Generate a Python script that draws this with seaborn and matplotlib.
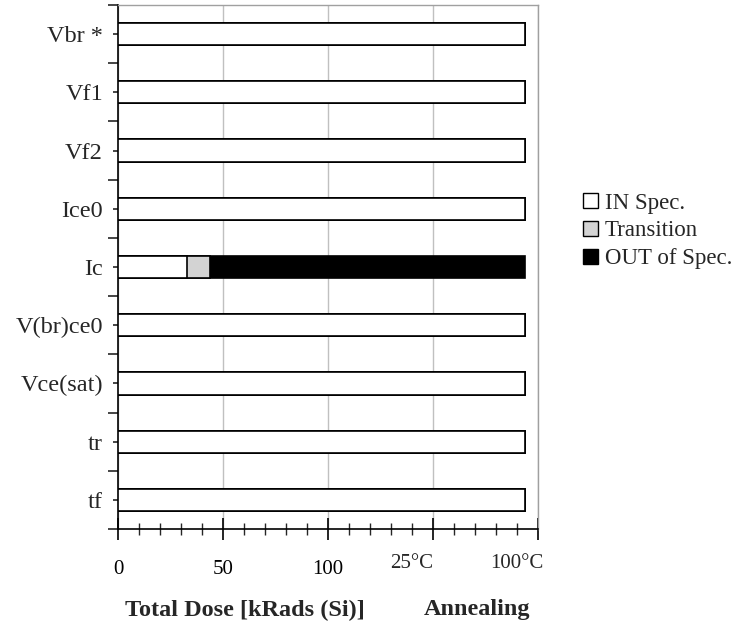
import numpy as np
import pandas as pd
import matplotlib
matplotlib.use("Agg")
import matplotlib.pyplot as plt
import matplotlib.transforms as mtransforms
from matplotlib.patches import Patch
from matplotlib.ticker import FixedLocator, MultipleLocator
import seaborn as sns

# Device parameters and how far each stayed in / drifted out of specification
parameters = ["Vbr *", "Vf1", "Vf2", "Ice0", "Ic", "V(br)ce0", "Vce(sat)", "tr", "tf"]
in_spec = [194, 194, 194, 194, 33, 194, 194, 194, 194]
transition = [0, 0, 0, 0, 11, 0, 0, 0, 0]
out_of_spec = [0, 0, 0, 0, 150, 0, 0, 0, 0]

dose_tick_values = [0, 50, 100, 150, 200]
dose_tick_labels = ["0", "50", "100", "", ""]
anneal_labels = ["25°C", "100°C"]
anneal_steps = [140, 190]

legend_labels = ["IN Spec.", "Transition", "OUT of Spec."]
colors = ["white", "#d3d3d3", "black"]

sns.set_style("ticks")
plt.rcParams["font.family"] = ["Liberation Serif", "DejaVu Serif"]

df = pd.DataFrame({
    "parameter": parameters,
    "in_spec": in_spec,
    "transition": transition,
    "out_of_spec": out_of_spec,
})
df["upto_transition"] = df["in_spec"] + df["transition"]
df["upto_out"] = df["upto_transition"] + df["out_of_spec"]

fig = plt.figure(figsize=(7.41, 6.27), dpi=100)
ax = fig.add_axes([118 / 741, 1 - 529 / 627, 420 / 741, 524 / 627])

# Stacked segments: longest (cumulative) first, shorter ones drawn on top
for col, color in [("upto_out", colors[2]), ("upto_transition", colors[1]), ("in_spec", colors[0])]:
    sns.barplot(data=df, x=col, y="parameter", orient="h", color=color,
                saturation=1, edgecolor="black", linewidth=1.2, width=0.38,
                ax=ax, zorder=3)

ax.set_xlim(0, 200)
ax.set_ylim(len(parameters) - 0.5, -0.5)
ax.set_xlabel("")
ax.set_ylabel("")

# X axis ticks
ax.xaxis.set_major_locator(FixedLocator(dose_tick_values))
ax.set_xticklabels(dose_tick_labels)
ax.xaxis.set_minor_locator(MultipleLocator(10))
ax.tick_params(axis="x", which="major", direction="inout", length=16, width=1.2,
               pad=14, labelsize=15, colors="black")
ax.tick_params(axis="x", which="minor", direction="inout", length=9, width=1.0)

# Y axis ticks: labels at category centres, separators between categories
ax.yaxis.set_minor_locator(FixedLocator(np.arange(-0.5, len(parameters), 1)))
ax.tick_params(axis="y", which="major", direction="inout", length=7.5, width=1.2,
               pad=7, labelsize=17.5)
ax.tick_params(axis="y", which="minor", direction="out", length=7.5, width=1.2)

ax.grid(axis="x", which="major", color="#c0c0c0", linewidth=1.0, zorder=0)
ax.grid(axis="y", visible=False)
ax.set_axisbelow(True)

for side in ["left", "bottom"]:
    ax.spines[side].set_color("black")
    ax.spines[side].set_linewidth(1.2)
for side in ["top", "right"]:
    ax.spines[side].set_color("#a0a0a0")
    ax.spines[side].set_linewidth(1.0)

# Annealing step labels under the axis
trans = mtransforms.blended_transform_factory(ax.transData, ax.transAxes)
for lab, xv in zip(anneal_labels, anneal_steps):
    ax.text(xv, -0.065, lab, transform=trans, ha="center", va="center",
            fontsize=15)

fig.text(245 / 741, 1 - 610 / 627, "Total Dose [kRads (Si)]", ha="center",
         va="center", fontsize=17.5, fontweight="bold")
fig.text(477 / 741, 1 - 610 / 627, "Annealing", ha="center", va="center",
         fontsize=17.5, fontweight="bold")

handles = [Patch(facecolor=c, edgecolor="black", linewidth=1.0) for c in colors]
fig.legend(handles, legend_labels, loc="center left",
           bbox_to_anchor=(574 / 741, 1 - 231 / 627), frameon=False,
           fontsize=16.5, handlelength=0.65, handleheight=0.65,
           handletextpad=0.3, labelspacing=0.3, borderaxespad=0)

fig.savefig("out.png", dpi=100)
